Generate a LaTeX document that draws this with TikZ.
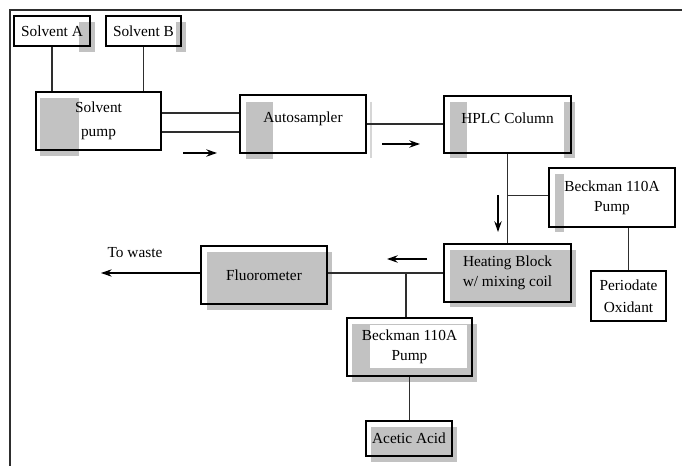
\documentclass[tikz,border=0pt]{standalone}
\usepackage{fontspec}
\setmainfont{Liberation Serif}
\usetikzlibrary{positioning,arrows.meta,calc}
\definecolor{shade}{HTML}{C2C2C2}
\definecolor{shadelight}{HTML}{D6D6D6}
\definecolor{linedark}{HTML}{2E2E2E}

\begin{document}
\begin{tikzpicture}[x=0.75pt, y=-0.75pt, >={Stealth[length=8pt,width=5.5pt]},
    box/.style 2 args={draw=black, line width=0.9pt, inner sep=0pt, align=center,
      minimum width={#1*0.75pt}, minimum height={#2*0.75pt},
      font=\fontsize{11.5}{15}\selectfont},
    raised/.style={text depth=10pt},
    pipe/.style={draw=linedark, line width=0.8pt},
    flow/.style={->, black, line width=1.4pt},
    shadow/.style={fill=shade}]
\useasboundingbox (0,0) rectangle (682,466);
% frame
\draw[line width=1.5pt, linedark] (9,10) -- (682,10);
\draw[line width=1.5pt, linedark] (10,10) -- (10,466);
% gray patches
\fill[shadow] (79,22) rectangle (95,52);
\fill[shadow] (176,22) rectangle (186,52);
\fill[shadow] (40,98) rectangle (79,156);
\fill[shadow] (246,102) rectangle (273,159);
\draw[shadelight, line width=0.8pt] (371,102) -- (371,158);
\fill[shadow] (450,102) rectangle (467,158);
\fill[shadow] (564,102) rectangle (575,158);
\fill[shadow] (555,174) rectangle (564,232);
\fill[shadow] (450,250) rectangle (576,307);
\fill[shadow] (207,252) rectangle (332,310);
\fill[shadow] (352,324) rectangle (477,382);
\fill[white] (370,325) rectangle (467,368);
\fill[shadow] (371,427) rectangle (457,462);
% units
\node[box={76}{30}] (solA) at (52,31) {Solvent A};
\node[box={75}{30}] (solB) at (143.5,31) {Solvent B};
\node[box={125}{58}] (pump) at (98.5,121) {Solvent\\[3pt]pump};
\node[box={126}{58}, raised] (auto) at (303,124) {Autosampler};
\node[box={127}{57}, raised] (hplc) at (507.5,124.5) {HPLC Column};
\node[box={126}{59}] (beckA) at (612,197.5) {Beckman 110A\\Pump};
\node[box={75}{50}] (perio) at (628.5,296) {Periodate\\[1.5pt]Oxidant};
\node[box={127}{58}] (heat) at (507.5,273) {Heating Block\\w/ mixing coil};
\node[box={126}{58}] (fluor) at (264,275) {Fluorometer};
\node[box={125}{58}] (beckB) at (409.5,347) {Beckman 110A\\Pump};
\node[box={86}{35}] (acetic) at (409,438.5) {Acetic Acid};
\node[font=\fontsize{11.5}{15}\selectfont] (waste) at (135,253) {To waste};
% junctions and free ends
\coordinate (lineU) at ($(pump.east)+(0,-8)$);
\coordinate (lineL) at ($(pump.east)+(0,11)$);
\coordinate (jA) at ($(hplc.south)!0.47!(heat.north)$);
\coordinate (jB) at (406,273);
\coordinate (drain) at (101,273);
% connectors
\draw[pipe] (solA.south) -- (solA.south |- pump.north);
\draw[pipe] (solB.south) -- (solB.south |- pump.north);
\draw[pipe] (lineU) -- (lineU -| auto.west);
\draw[pipe] (lineL) -- (lineL -| auto.west);
\draw[pipe] (auto.east) -- (auto.east -| hplc.west);
\draw[pipe] (hplc.south) -- (heat.north);
\draw[pipe] (jA -| hplc.south) -- (jA -| beckA.west);
\draw[pipe] (perio.north) -- (perio.north |- beckA.south);
\draw[pipe] (heat.west) -- (heat.west -| fluor.east);
\draw[pipe] (jB) -- (jB |- beckB.north);
\draw[pipe] (beckB.south) -- (beckB.south |- acetic.north);
\draw[pipe, ->, black] (fluor.west |- drain) -- (drain);
% flow direction
\coordinate (f1) at (183,153);
\coordinate (f2) at (382,144);
\coordinate (f3) at (498,195);
\coordinate (f4) at (427,259);
\draw[flow] (f1) -- ++(34,0);
\draw[flow] (f2) -- ++(38,0);
\draw[flow] (f3) -- ++(0,37);
\draw[flow] (f4) -- ++(-40,0);
\end{tikzpicture}
\end{document}
